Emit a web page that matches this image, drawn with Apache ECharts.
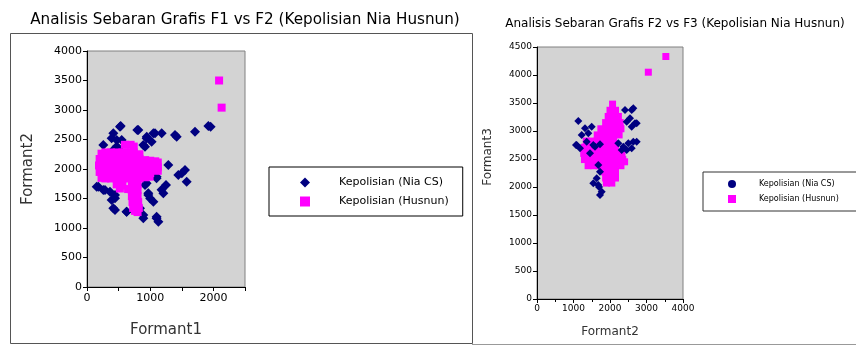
<!DOCTYPE html>
<html>
<head>
<meta charset="utf-8">
<script src="https://cdn.jsdelivr.net/npm/echarts@6/dist/echarts.min.js"></script>
<style>
html,body{margin:0;padding:0;background:#fff;}
#c{width:856px;height:347px;}
</style>
</head>
<body>
<div id="c"></div>
<script>
// ---- data ----
const seriesNames = ['Kepolisian (Nia CS)', 'Kepolisian (Husnun)'];
const titles = ['Analisis Sebaran Grafis F1 vs F2 (Kepolisian Nia Husnun)', 'Analisis Sebaran Grafis F2 vs F3 (Kepolisian Nia Husnun)'];
const axisNames = { left: ['Formant1', 'Formant2'], right: ['Formant2', 'Formant3'] };

// Chart 1: Formant1 (x) vs Formant2 (y)
const niaF1F2 = [
  [533,2729],[522,2717],[416,2605],[470,2492],[390,2520],[258,2407],[549,2492],[416,2322],[495,2351],[470,2380],
  [796,2661],[812,2661],[945,2548],[943,2520],[1050,2605],[1076,2605],[1182,2605],[891,2407],[918,2379],[1023,2463],
  [1392,2576],[1419,2548],[1709,2633],[1920,2729],[1956,2718],
  [1287,2068],[1445,1898],[1551,1983],[1577,1785],[1500,1930],
  [1022,1983],[1101,1842],[1102,1870],[1250,1729],[1208,1588],[1180,1650],
  [153,1700],[179,1700],[258,1644],[285,1644],[364,1615],[443,1559],[443,1503],[390,1474],[416,1333],[443,1305],
  [626,1277],[628,1276],[891,1220],[891,1164],[839,1333],[918,1729],[943,1757],[970,1588],[970,1559],[1050,1446],
  [1101,1164],[1102,1192],[1129,1107],[1000,1500]
];
const husnunF1F2 = [
  [600,2410],[690,2410],[740,2380],
  [230,2260],[290,2280],[380,2280],[470,2280],[560,2280],[650,2280],[740,2280],[830,2250],
  [200,2170],[290,2170],[380,2170],[470,2170],[560,2170],[650,2170],[740,2170],[830,2170],[920,2150],[1000,2140],[1080,2130],[1120,2110],
  [190,2060],[290,2060],[380,2060],[470,2060],[560,2060],[650,2060],[740,2060],[830,2060],[920,2040],[1000,2030],[1080,2030],[1120,2030],
  [200,1950],[290,1950],[380,1950],[470,1950],[560,1950],[650,1950],[740,1950],[830,1950],[920,1930],[1000,1930],[1080,1990],[1120,1970],
  [230,1850],[290,1840],[380,1840],[470,1840],[560,1840],[650,1840],[740,1840],[830,1840],[920,1860],[990,1870],
  [470,1740],[560,1720],[650,1660],[520,1670],
  [710,1740],[800,1740],[710,1640],[800,1640],[710,1540],[800,1540],[720,1440],[810,1440],[730,1340],[820,1340],[760,1290],[800,1270]
  ,[2090,3500],[2130,3040]
];

// Chart 2: Formant2 (x) vs Formant3 (y)
const niaF2F3 = [
  [1132,3179],[1315,3048],[1224,2929],[1406,2958],[1498,3077],[1361,2810],[1087,2750],[1069,2750],[1178,2690],
  [1543,2750],[1452,2601],[1589,2720],[1726,2762],
  [1680,2393],[1726,2274],[1635,2155],[1680,2036],[1543,2065],[1772,1917],[1726,1857],[1700,2000],
  [2411,3375],[2594,3375],[2639,3405],[2548,3226],[2685,3137],[2731,3137],[2457,3166],[2594,3077],
  [2228,2780],[2365,2720],[2502,2780],[2639,2810],[2731,2810],[2320,2661],[2457,2661],[2594,2690]
];
const husnunF2F3 = [
  [2070,3480],[2000,3370],[2150,3370],[1950,3260],[2100,3260],[2230,3260],
  [1880,3150],[2030,3150],[2180,3150],[2280,3150],
  [1750,3040],[1900,3040],[2050,3040],[2200,3040],[2300,3040],
  [1650,2930],[1800,2930],[1950,2930],[2100,2930],[2250,2930],
  [1350,2820],[1500,2820],[1650,2820],[1800,2820],[1950,2820],[2100,2820],
  [1300,2710],[1450,2710],[1600,2710],[1750,2710],[1900,2710],[2050,2710],[2150,2710],
  [1280,2600],[1430,2600],[1580,2600],[1730,2600],[1880,2600],[2030,2600],[2180,2600],[2330,2600],
  [1300,2490],[1450,2490],[1600,2490],[1750,2490],[1900,2490],[2050,2490],[2200,2490],[2350,2490],[2400,2450],
  [1400,2380],[1550,2380],[1700,2380],[1850,2380],[2000,2380],[2150,2380],[2300,2380],
  [1850,2270],[2000,2270],[2150,2270],
  [1880,2160],[2030,2160],[2150,2160],
  [1900,2070],[2050,2070],
  [3050,4050],[3530,4330]
];

// ---- chart ----
const FONT = 'DejaVu Sans';
const NAVY = '#000080', MAG = '#ff00ff';
const chart = echarts.init(document.getElementById('c'), null, {renderer:'canvas'});

function axisCommon(fs){
  return {
    axisLine:{show:true,onZero:false,lineStyle:{color:'#000',width:1}},
    axisTick:{show:true,inside:false,length:4,lineStyle:{color:'#000'}},
    splitLine:{show:false},
    axisLabel:{color:'#000',fontFamily:FONT,fontSize:fs,margin:5,formatter:v=>String(v)},
    nameTextStyle:{color:'#333',fontFamily:FONT}
  };
}

const option = {
  animation:false,
  backgroundColor:'#fff',
  title:[
    {text:titles[0],left:240,top:8,textAlign:'center',
     textStyle:{fontFamily:FONT,fontSize:15.2,fontWeight:'normal',color:'#000'}},
    {text:titles[1],left:670,top:13,textAlign:'center',
     textStyle:{fontFamily:FONT,fontSize:12,fontWeight:'normal',color:'#000'}}
  ],
  grid:[
    {left:87,top:51,width:158,height:236,show:true,backgroundColor:'#d3d3d3',borderColor:'#808080',borderWidth:1},
    {left:537,top:47,width:146,height:252,show:true,backgroundColor:'#d3d3d3',borderColor:'#808080',borderWidth:1}
  ],
  xAxis:[
    Object.assign(axisCommon(11),{
      gridIndex:0,type:'value',min:0,max:2500,interval:500,
      name:axisNames.left[0],nameLocation:'middle',nameGap:36,
      nameTextStyle:{color:'#333',fontFamily:FONT,fontSize:15},
      axisLabel:{color:'#000',fontFamily:FONT,fontSize:11,margin:6,
        formatter:v=> (v%1000===0? String(v):'')}
    }),
    Object.assign(axisCommon(9),{
      gridIndex:1,type:'value',min:0,max:4000,interval:1000,
      name:axisNames.right[0],nameLocation:'middle',nameGap:27,
      nameTextStyle:{color:'#333',fontFamily:FONT,fontSize:12},
      minorTick:{show:true,splitNumber:2,length:3,lineStyle:{color:'#000'}}
    })
  ],
  yAxis:[
    Object.assign(axisCommon(11),{
      gridIndex:0,type:'value',min:0,max:4000,interval:500,
      name:axisNames.left[1],nameLocation:'middle',nameGap:51,
      nameTextStyle:{color:'#333',fontFamily:FONT,fontSize:15}
    }),
    Object.assign(axisCommon(9),{
      gridIndex:1,type:'value',min:0,max:4500,interval:500,
      name:axisNames.right[1],nameLocation:'middle',nameGap:43,
      nameTextStyle:{color:'#333',fontFamily:FONT,fontSize:12,padding:[0,0,0,32]}
    })
  ],
  legend:[
    {orient:'vertical',left:269,top:167,padding:[10,14,9,31],itemGap:8,itemWidth:10,itemHeight:10,
     backgroundColor:'#fff',borderColor:'#000',borderWidth:1,borderRadius:0,
     textStyle:{fontFamily:FONT,fontSize:11,color:'#000',padding:[0,0,0,24]},
     data:[{name:seriesNames[0],icon:'diamond'},{name:seriesNames[1],icon:'rect'}]},
    {orient:'vertical',left:703,top:172,padding:[8,30,8,25],itemGap:7,itemWidth:8,itemHeight:8,
     backgroundColor:'#fff',borderColor:'#333',borderWidth:1,borderRadius:0,
     textStyle:{fontFamily:FONT,fontSize:8,color:'#000',padding:[0,0,0,18]},
     data:[{name:seriesNames[0],icon:'circle'},{name:seriesNames[1],icon:'rect'}]}
  ],
  series:[
    {name:seriesNames[0],type:'scatter',xAxisIndex:0,yAxisIndex:0,data:niaF1F2,
     symbol:'diamond',symbolSize:10,itemStyle:{color:NAVY,opacity:1},z:2},
    {name:seriesNames[1],type:'scatter',xAxisIndex:0,yAxisIndex:0,data:husnunF1F2,
     symbol:'rect',symbolSize:8,itemStyle:{color:MAG,opacity:1},z:3},
    {name:seriesNames[1],type:'scatter',xAxisIndex:1,yAxisIndex:1,data:husnunF2F3,
     symbol:'rect',symbolSize:7,itemStyle:{color:MAG,opacity:1},z:2},
    {name:seriesNames[0],type:'scatter',xAxisIndex:1,yAxisIndex:1,data:niaF2F3,
     symbol:'diamond',symbolSize:8,itemStyle:{color:NAVY,opacity:1},z:3}
  ],
  graphic:[
    {type:'rect',shape:{x:10.5,y:33.5,width:462,height:310},style:{fill:null,stroke:'#555',lineWidth:1},silent:true,z:-10},
    {type:'line',shape:{x1:472,y1:344.5,x2:856,y2:344.5},style:{stroke:'#999',lineWidth:1},silent:true,z:-10}
  ]
};
chart.setOption(option);
</script>
</body>
</html>
